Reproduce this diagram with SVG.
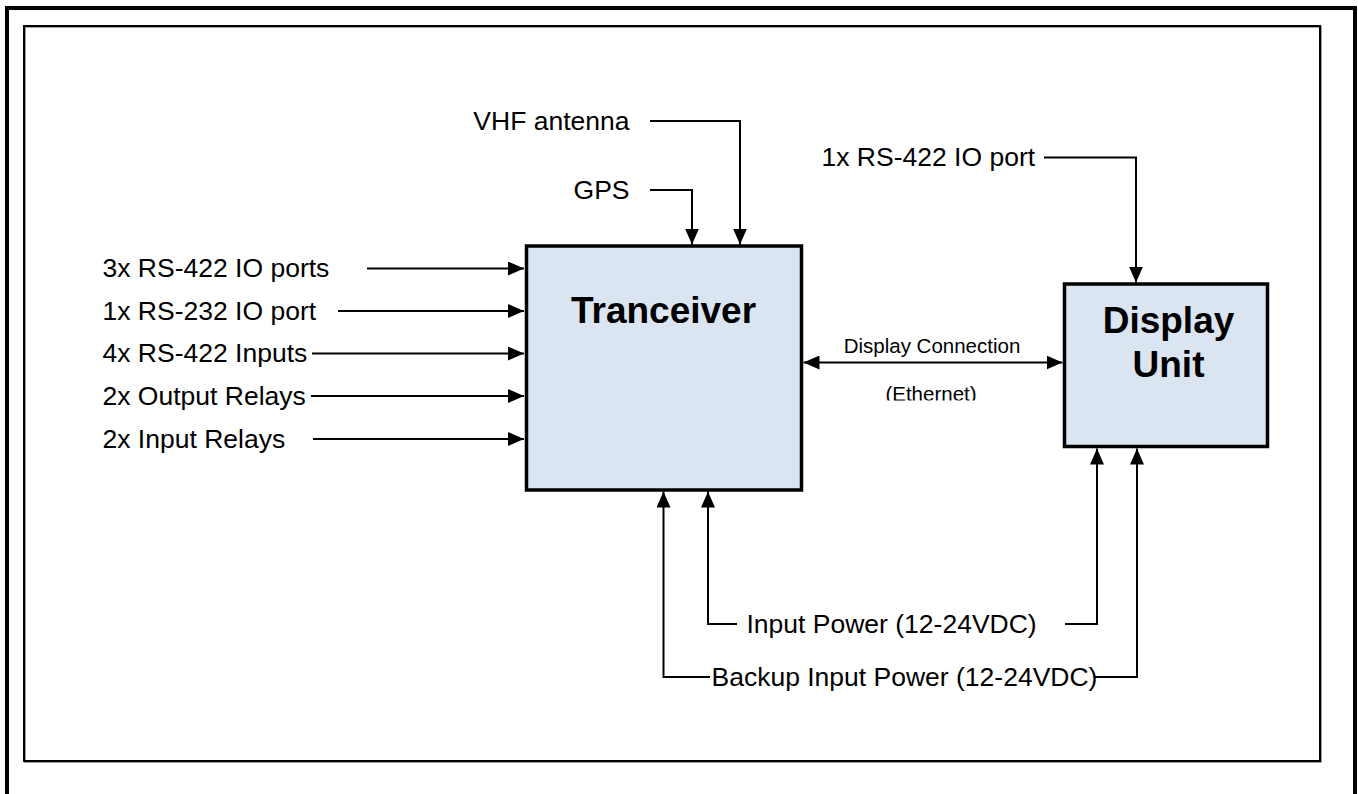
<svg xmlns="http://www.w3.org/2000/svg" width="1358" height="794" viewBox="0 0 1358 794">
  <style>
    .lbl { font-family: "Liberation Sans", Arial, sans-serif; font-size: 26.5px; fill: #000; }
    .small { font-family: "Liberation Sans", Arial, sans-serif; font-size: 20.5px; fill: #000; }
    .title { font-family: "Liberation Sans", Arial, sans-serif; font-size: 37px; font-weight: bold; fill: #000; text-anchor: middle; }
    .box { fill: #dbe5f1; stroke: #000; stroke-width: 3.5; }
    .wire { fill: none; stroke: #000; stroke-width: 2; }
  </style>
  <defs>
    <marker id="ah" viewBox="0 0 16 14" refX="16" refY="7" markerWidth="16" markerHeight="14" markerUnits="userSpaceOnUse" orient="auto-start-reverse">
      <path d="M0,0 L16,7 L0,14 Z" fill="#000"/>
    </marker>
    <clipPath id="ethclip">
      <rect x="860" y="370" width="140" height="30.5"/>
    </clipPath>
  </defs>

  <rect width="1358" height="794" fill="#fff"/>
  <!-- outer frame -->
  <rect x="7" y="8" width="1348" height="800" fill="none" stroke="#000" stroke-width="4"/>
  <!-- inner frame -->
  <rect x="25" y="27" width="1296" height="735" fill="none" stroke="#a0a0a0" stroke-width="2"/>
  <rect x="24" y="26" width="1296" height="735" fill="none" stroke="#000" stroke-width="2"/>

  <g id="connectors">
    <path class="wire" marker-end="url(#ah)" d="M367,268.5 H524"/>
    <path class="wire" marker-end="url(#ah)" d="M338,311 H524"/>
    <path class="wire" marker-end="url(#ah)" d="M312,353.5 H524"/>
    <path class="wire" marker-end="url(#ah)" d="M311,396 H524"/>
    <path class="wire" marker-end="url(#ah)" d="M313,439 H524"/>
    <path class="wire" marker-end="url(#ah)" d="M650,190 H692 V244.5"/>
    <path class="wire" marker-end="url(#ah)" d="M650,121 H740 V244.5"/>
    <path class="wire" marker-end="url(#ah)" d="M1044,157.5 H1136 V282.5"/>
    <path class="wire" marker-start="url(#ah)" marker-end="url(#ah)" d="M803.5,362.5 H1062.5"/>
    <path class="wire" marker-end="url(#ah)" d="M737,624 H708 V491.5"/>
    <path class="wire" marker-end="url(#ah)" d="M1065,624 H1097 V448.5"/>
    <path class="wire" marker-end="url(#ah)" d="M710,677 H663.5 V491.5"/>
    <path class="wire" marker-end="url(#ah)" d="M1095,677 H1137 V448.5"/>
  </g>

  <g id="tranceiver">
    <rect class="box" x="526.5" y="246" width="275" height="244"/>
    <text class="title" x="663.5" y="323">Tranceiver</text>
  </g>

  <g id="display-unit">
    <rect class="box" x="1064.5" y="284" width="203" height="162.5"/>
    <text class="title" x="1168.5" y="333">Display</text>
    <text class="title" x="1168.5" y="377">Unit</text>
  </g>

  <g id="labels">
    <text class="lbl" x="102.5" y="277">3x RS-422 IO ports</text>
    <text class="lbl" x="102.5" y="319.5">1x RS-232 IO port</text>
    <text class="lbl" x="102.5" y="362">4x RS-422 Inputs</text>
    <text class="lbl" x="102.5" y="404.5">2x Output Relays</text>
    <text class="lbl" x="102.5" y="447.5">2x Input Relays</text>
    <text class="lbl" x="629.5" y="129.5" text-anchor="end">VHF antenna</text>
    <text class="lbl" x="629.5" y="198.5" text-anchor="end">GPS</text>
    <text class="lbl" x="821.5" y="166">1x RS-422 IO port</text>
    <text class="small" x="932" y="352.5" text-anchor="middle">Display Connection</text>
    <text class="small" x="931" y="401" text-anchor="middle" clip-path="url(#ethclip)">(Ethernet)</text>
    <text class="lbl" x="746.5" y="633">Input Power (12-24VDC)</text>
    <text class="lbl" x="711.5" y="686">Backup Input Power (12-24VDC)</text>
  </g>
</svg>
